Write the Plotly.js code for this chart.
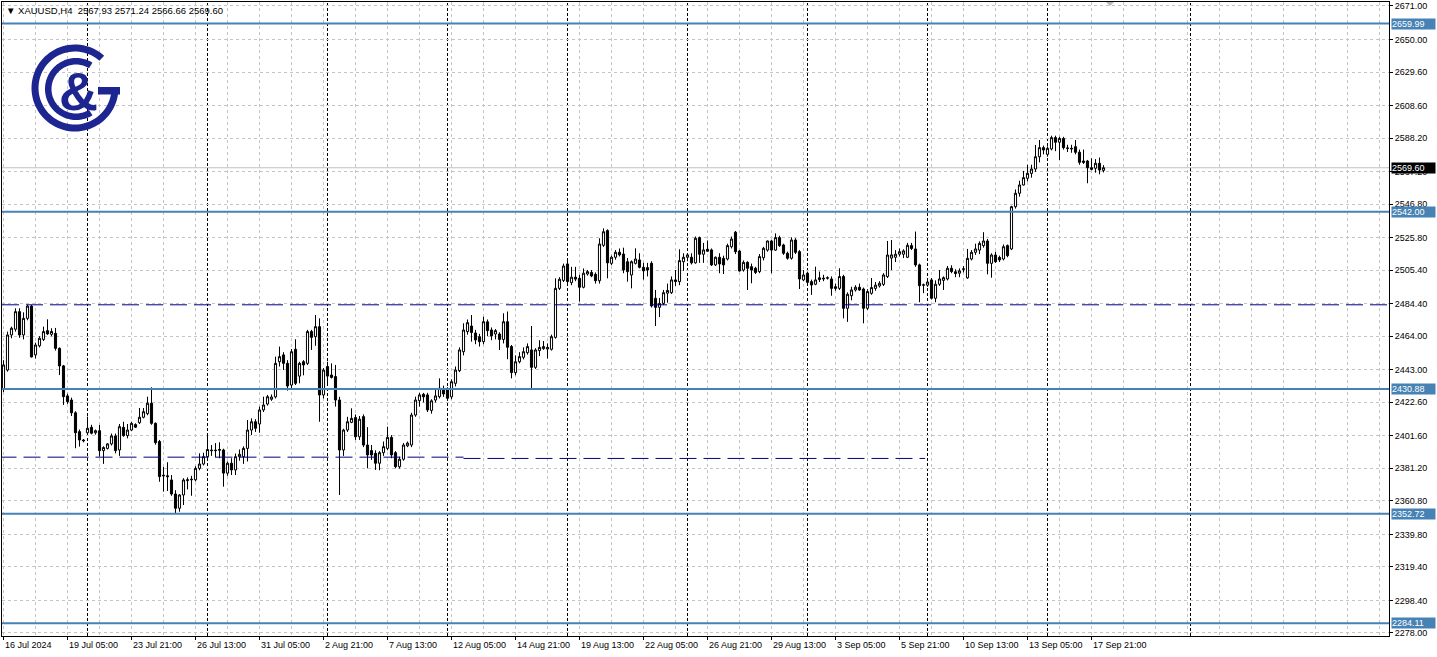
<!DOCTYPE html>
<html><head><meta charset="utf-8">
<script src="https://cdn.plot.ly/plotly-3.0.1.min.js"></script>
<style>html,body{margin:0;padding:0;background:#fff;}#chart{width:1437px;height:657px;}</style>
</head><body><div id="chart"></div>
<script>
const symbol = "XAUUSD,H4";
const open = [
2431.0,2442.8,2464.8,2468.4,2479.4,2464.8,2475.2,2482.9,2452.3,2458.0,
2462.0,2467.5,2465.2,2465.8,2456.4,2445.4,2426.6,2424.0,2416.0,2404.2,
2398.9,2403.5,2406.9,2403.5,2404.8,2392.3,2393.7,2396.5,2401.5,2392.7,
2406.9,2401.7,2405.2,2408.6,2409.8,2413.2,2415.5,2422.0,2409.4,2398.0,
2376.4,2376.5,2373.9,2365.1,2356.2,2364.5,2373.5,2374.0,2374.0,2381.2,
2383.9,2388.5,2392.6,2392.3,2392.5,2392.7,2378.2,2384.4,2380.2,2388.5,
2388.5,2393.7,2405.2,2410.4,2409.0,2417.8,2421.5,2424.5,2426.0,2448.0,
2452.3,2447.0,2433.4,2455.8,2439.0,2448.0,2447.0,2466.9,2463.7,2470.0,
2427.2,2445.0,2439.7,2438.7,2424.0,2392.7,2405.2,2410.0,2413.0,2401.0,
2413.6,2395.8,2392.3,2390.6,2384.4,2391.0,2393.7,2400.6,2391.0,2382.2,
2386.9,2395.3,2395.8,2414.6,2423.6,2427.6,2427.2,2417.5,2424.0,2426.1,
2430.3,2430.3,2426.0,2434.5,2442.4,2454.3,2466.9,2470.4,2466.0,2463.7,
2460.6,2473.0,2467.9,2465.4,2465.4,2462.0,2473.1,2457.5,2441.2,2448.0,
2450.8,2453.7,2455.4,2444.5,2455.0,2456.2,2456.0,2455.8,2463.3,2494.0,
2499.0,2509.3,2497.6,2501.0,2500.3,2494.7,2503.0,2504.0,2502.8,2498.8,
2521.0,2530.2,2509.7,2513.5,2516.6,2515.5,2510.7,2502.4,2509.7,2511.8,
2507.2,2507.0,2509.7,2487.8,2482.1,2484.6,2491.0,2491.3,2499.3,2498.2,
2510.7,2513.5,2513.5,2510.0,2525.8,2515.4,2518.5,2518.1,2508.7,2513.5,
2512.8,2512.4,2520.1,2529.2,2517.4,2505.5,2510.3,2507.6,2506.6,2504.5,
2513.2,2518.0,2523.7,2518.0,2525.8,2521.2,2516.0,2512.9,2524.3,2517.0,
2499.3,2503.5,2498.2,2496.6,2500.6,2500.4,2500.4,2499.9,2495.0,2494.0,
2501.4,2481.5,2489.4,2493.0,2494.7,2493.6,2481.5,2490.9,2494.0,2495.5,
2496.5,2501.4,2513.0,2513.5,2515.4,2515.4,2513.5,2520.8,2518.7,2508.7,
2496.0,2496.0,2499.3,2487.8,2496.6,2499.0,2499.9,2506.6,2504.4,2503.5,
2506.0,2500.6,2512.4,2516.6,2518.0,2520.8,2523.7,2509.7,2514.9,2513.4,
2512.4,2520.8,2518.7,2545.2,2553.6,2558.8,2563.0,2566.1,2568.8,2576.5,
2582.2,2578.0,2581.4,2588.5,2585.6,2588.0,2582.0,2581.8,2582.8,2579.3,
2573.8,2573.8,2569.6,2569.3,2572.4,2567.93];
const high = [
2449.0,2466.9,2470.0,2481.5,2481.5,2479.0,2483.7,2483.7,2460.0,2464.0,
2470.0,2474.6,2469.0,2469.2,2457.0,2446.0,2428.0,2425.5,2417.0,2405.5,
2399.6,2413.6,2408.5,2405.5,2408.4,2395.0,2397.0,2403.0,2403.0,2409.0,
2410.4,2409.0,2410.4,2409.4,2419.0,2419.0,2426.1,2432.0,2410.0,2399.0,
2382.0,2385.0,2377.0,2367.5,2365.0,2375.0,2375.5,2376.5,2382.5,2390.6,
2391.0,2403.2,2395.8,2397.0,2397.5,2393.5,2385.5,2387.5,2390.5,2393.0,
2395.0,2411.5,2412.5,2412.0,2419.9,2426.1,2427.2,2427.5,2451.2,2457.5,
2454.0,2449.0,2456.0,2462.1,2448.0,2449.0,2468.0,2468.0,2477.3,2475.2,
2444.0,2448.0,2447.0,2446.0,2426.0,2406.0,2413.5,2418.8,2415.0,2414.0,
2415.0,2407.0,2395.8,2392.5,2392.0,2398.0,2407.3,2402.0,2392.0,2388.5,
2397.0,2398.0,2416.0,2426.1,2428.5,2428.5,2428.5,2424.5,2430.3,2437.6,
2433.0,2432.0,2437.0,2445.0,2457.0,2472.1,2474.5,2477.3,2468.0,2465.5,
2476.2,2474.5,2469.5,2468.5,2466.5,2478.4,2479.5,2458.5,2452.0,2454.0,
2457.0,2459.5,2470.4,2456.5,2461.5,2461.0,2459.5,2465.0,2500.3,2501.0,
2509.5,2511.4,2507.5,2507.5,2502.5,2506.5,2505.5,2505.5,2504.0,2525.4,
2531.6,2531.0,2514.5,2518.0,2519.0,2519.5,2513.0,2511.5,2519.1,2516.0,
2510.0,2510.0,2511.0,2493.0,2488.0,2493.0,2497.0,2501.5,2505.5,2518.5,
2516.0,2516.0,2516.0,2526.5,2526.5,2522.5,2524.0,2519.0,2514.0,2516.0,
2514.5,2522.0,2526.5,2530.0,2518.0,2511.5,2511.0,2509.5,2507.5,2515.5,
2520.0,2524.0,2524.5,2528.5,2527.0,2522.0,2517.0,2526.0,2525.5,2518.0,
2505.5,2504.5,2499.5,2507.6,2504.5,2502.5,2501.5,2501.5,2497.0,2506.6,
2502.5,2491.5,2495.0,2496.0,2497.0,2494.5,2493.5,2500.5,2498.0,2498.5,
2503.5,2523.7,2524.3,2518.0,2519.0,2518.5,2522.5,2522.5,2529.6,2509.5,
2497.0,2500.0,2500.5,2499.0,2505.5,2501.5,2508.0,2508.5,2506.0,2506.5,
2508.0,2518.7,2518.0,2522.0,2523.5,2529.2,2525.0,2516.0,2517.0,2514.5,
2521.5,2521.5,2545.8,2556.0,2561.5,2567.6,2571.5,2571.5,2583.9,2587.0,
2583.5,2583.0,2589.7,2589.7,2589.0,2589.0,2584.0,2584.0,2587.0,2581.0,
2581.0,2574.5,2575.5,2575.0,2576.0,2571.24];
const low = [
2429.0,2441.8,2462.7,2466.9,2463.0,2462.0,2474.0,2450.7,2450.0,2457.0,
2461.0,2464.8,2464.0,2455.0,2439.7,2420.9,2421.6,2414.0,2393.8,2394.8,
2397.5,2403.0,2402.5,2402.3,2388.5,2384.0,2393.0,2395.5,2390.6,2389.0,
2401.0,2400.0,2404.5,2406.5,2409.0,2412.5,2414.5,2408.5,2396.0,2372.8,
2366.6,2367.0,2364.0,2352.6,2354.0,2358.2,2368.0,2364.0,2373.0,2380.0,
2383.0,2387.5,2389.0,2388.0,2387.5,2369.7,2376.5,2377.0,2377.0,2386.0,
2384.0,2385.5,2402.0,2404.0,2403.5,2416.5,2420.5,2423.5,2425.0,2445.0,
2442.8,2429.9,2430.3,2433.4,2434.5,2439.5,2446.0,2455.4,2458.0,2410.4,
2425.0,2433.0,2437.5,2419.9,2364.5,2389.0,2404.0,2409.5,2399.0,2399.0,
2394.5,2381.2,2386.5,2380.2,2380.0,2389.0,2392.5,2387.5,2381.2,2381.0,
2386.0,2394.5,2394.5,2413.5,2419.9,2422.5,2416.5,2415.5,2422.5,2425.0,
2426.0,2423.5,2424.5,2432.5,2441.5,2452.0,2465.0,2460.6,2459.0,2457.5,
2459.0,2464.0,2461.5,2462.0,2455.4,2459.5,2449.6,2437.6,2439.5,2447.0,
2449.5,2452.5,2431.4,2443.5,2451.5,2455.5,2450.0,2455.0,2462.5,2493.0,
2498.0,2495.5,2496.0,2498.5,2485.7,2494.0,2502.0,2501.0,2497.0,2497.0,
2520.0,2500.3,2508.5,2512.0,2514.0,2503.5,2498.2,2494.0,2509.0,2506.5,
2499.5,2501.5,2482.0,2470.4,2476.0,2483.5,2485.0,2490.5,2495.5,2496.0,
2505.0,2511.0,2509.0,2509.5,2510.0,2510.0,2517.0,2508.0,2508.0,2503.5,
2503.0,2511.5,2519.0,2515.5,2504.5,2504.5,2493.0,2497.2,2503.0,2503.5,
2511.5,2517.0,2503.5,2517.5,2520.0,2515.0,2512.0,2512.0,2515.5,2493.6,
2498.5,2497.2,2489.9,2496.0,2498.0,2498.5,2499.5,2489.4,2492.5,2493.0,
2475.2,2473.0,2486.5,2492.0,2492.5,2472.1,2480.5,2490.0,2492.5,2494.5,
2495.5,2500.5,2505.5,2510.5,2514.0,2513.0,2513.0,2518.0,2507.5,2485.3,
2491.0,2495.0,2487.0,2485.3,2495.5,2493.0,2499.0,2503.5,2501.0,2501.0,
2504.0,2500.0,2511.5,2515.0,2515.5,2519.5,2502.8,2500.7,2510.0,2510.5,
2511.5,2513.5,2518.0,2544.0,2551.5,2558.5,2561.0,2563.4,2567.0,2573.0,
2578.0,2576.5,2580.5,2580.0,2574.5,2581.0,2579.5,2579.0,2578.0,2571.5,
2572.0,2559.9,2568.0,2566.5,2565.5,2566.66];
const close = [
2446.0,2464.8,2469.0,2479.4,2464.8,2475.2,2482.9,2451.0,2458.5,2462.7,
2466.9,2465.5,2467.0,2456.4,2445.4,2426.1,2423.0,2416.0,2403.5,2399.0,
2398.5,2406.3,2403.2,2404.8,2392.3,2394.2,2396.5,2401.5,2392.3,2407.3,
2401.7,2405.2,2409.4,2407.0,2413.2,2416.7,2422.0,2409.4,2397.3,2376.0,
2376.8,2376.0,2365.1,2356.2,2364.5,2373.9,2374.0,2374.3,2381.2,2383.9,
2388.5,2393.0,2392.3,2392.5,2393.0,2378.2,2384.4,2380.2,2388.5,2390.0,
2393.7,2405.2,2410.4,2406.3,2417.8,2420.9,2426.1,2425.9,2447.0,2451.2,
2447.0,2432.8,2454.3,2434.5,2447.0,2446.0,2466.9,2463.3,2470.0,2427.2,
2442.8,2439.0,2438.2,2424.0,2392.7,2405.2,2410.4,2412.5,2401.0,2412.0,
2395.8,2389.6,2389.6,2384.4,2391.0,2394.8,2400.6,2389.6,2382.2,2386.9,
2395.8,2397.0,2414.6,2424.0,2427.2,2426.0,2417.8,2423.5,2426.6,2431.4,
2427.8,2425.1,2435.5,2442.8,2455.4,2467.9,2472.5,2466.3,2461.7,2460.6,
2473.1,2467.5,2464.2,2467.5,2462.0,2473.1,2457.1,2441.2,2448.0,2451.2,
2454.3,2457.5,2444.5,2455.4,2457.0,2457.5,2457.0,2463.7,2494.0,2499.7,
2508.0,2498.3,2501.0,2499.8,2494.7,2503.5,2504.5,2501.8,2498.8,2521.8,
2529.5,2510.0,2513.5,2516.6,2515.0,2505.5,2504.5,2510.7,2512.4,2507.2,
2505.0,2505.5,2483.0,2482.1,2484.6,2491.3,2492.7,2499.3,2498.3,2511.4,
2513.5,2515.0,2510.0,2525.4,2515.4,2518.1,2517.3,2508.7,2513.5,2509.3,
2508.7,2520.8,2524.9,2517.0,2504.9,2510.3,2506.6,2505.5,2504.0,2513.9,
2519.1,2523.7,2518.0,2525.8,2520.8,2516.0,2512.9,2524.3,2516.6,2499.9,
2502.4,2497.8,2496.1,2499.3,2499.6,2500.0,2500.6,2494.0,2494.0,2501.4,
2481.5,2490.3,2493.0,2494.7,2493.0,2481.5,2492.0,2494.5,2496.0,2497.2,
2502.4,2514.9,2515.0,2515.4,2517.0,2517.5,2521.0,2519.0,2508.7,2495.7,
2496.2,2498.0,2487.8,2496.6,2499.9,2500.7,2506.6,2504.5,2503.3,2505.0,
2506.2,2512.8,2516.6,2518.7,2522.2,2523.7,2509.7,2514.9,2510.7,2511.8,
2520.1,2514.5,2545.2,2553.6,2558.8,2563.4,2566.1,2568.8,2576.5,2582.2,
2580.7,2581.8,2588.5,2585.6,2588.0,2582.2,2581.8,2581.5,2579.3,2573.0,
2573.0,2569.6,2568.6,2572.4,2568.2,2569.60];

const tickBars = [0,16,32,48,64,80,96,112,128,144,160,176,192,208,224,240,256,272];
const tickLabels = ["16 Jul 2024","19 Jul 05:00","23 Jul 21:00","26 Jul 13:00","31 Jul 05:00",
  "2 Aug 21:00","7 Aug 13:00","12 Aug 05:00","14 Aug 21:00","19 Aug 13:00","22 Aug 05:00",
  "26 Aug 21:00","29 Aug 13:00","3 Sep 05:00","5 Sep 21:00","10 Sep 13:00","13 Sep 05:00","17 Sep 21:00"];
const priceTicks = [2671.00,2650.00,2629.60,2608.60,2588.20,2567.20,2546.80,2525.80,2505.40,2484.40,
  2464.00,2443.00,2422.60,2401.60,2381.20,2360.80,2339.80,2319.40,2298.40,2278.00];
const weekSeparators = [21,51,81,111,141,171,201,231,261,296.75];
const levels = [2659.99,2542.00,2430.88,2352.72,2284.11];
const highLine = 2483.7;
const lowLineStart = [-1,115];
const lowLineEnd = [115,230.4];
const lowLinePrice = [2388.2,2387.4];

const idx = open.map((_, i) => i);
const last = open.length - 1;

// page geometry (pixels) for decorations
const PL = 2, PR = 1389, PT = 2, PB = 636;
function pp(x, y) { return [(x - PL) / (PR - PL), 1 - (y - PT) / (PB - PT)]; }
function polyPath(pts) {
  return 'M' + pts.map(p => { const q = pp(p[0], p[1]); return q[0].toFixed(5) + ',' + q[1].toFixed(5); }).join('L') + 'Z';
}
function ring(cx, cy, r1, r2, a0, a1) {
  const n = 80, pts = [];
  for (let k = 0; k <= n; k++) { const a = (a0 + (a1 - a0) * k / n) * Math.PI / 180; pts.push([cx + r2 * Math.cos(a), cy - r2 * Math.sin(a)]); }
  for (let k = n; k >= 0; k--) { const a = (a0 + (a1 - a0) * k / n) * Math.PI / 180; pts.push([cx + r1 * Math.cos(a), cy - r1 * Math.sin(a)]); }
  return polyPath(pts);
}
const NAVY = '#1c2590';
const STEEL = '#4682b4';
const GRID = '#c4c4c4';

const shapes = [];
weekSeparators.forEach(s => shapes.push({type:'line', xref:'x', yref:'paper', x0:s, x1:s, y0:0, y1:1,
  line:{color:'#000', width:1, dash:'3px,2px'}, layer:'below'}));
shapes.push({type:'line', xref:'paper', yref:'y', x0:0, x1:1, y0:close[last], y1:close[last],
  line:{color:'#c0c0c0', width:1}, layer:'below'});
shapes.push({type:'line', xref:'paper', yref:'y', x0:0, x1:1, y0:highLine, y1:highLine,
  line:{color:'#000080', width:1, dash:'17px,7px'}, layer:'above'});
lowLinePrice.forEach((p, k) => shapes.push({type:'line', xref:'x', yref:'y', x0:lowLineStart[k], x1:lowLineEnd[k], y0:p, y1:p,
  line:{color:'#000080', width:1, dash:'17px,7px'}, layer:'above'}));
levels.forEach(l => shapes.push({type:'line', xref:'paper', yref:'y', x0:0, x1:1, y0:l, y1:l,
  line:{color:STEEL, width:2}, layer:'above'}));
// logo
shapes.push({type:'path', xref:'paper', yref:'paper', path:ring(75, 88, 36.5, 43.5, 48, 360), fillcolor:NAVY, line:{width:0}, layer:'above'});
shapes.push({type:'path', xref:'paper', yref:'paper', path:polyPath([[98,87],[120,87],[120,94.5],[98,94.5]]), fillcolor:NAVY, line:{width:0}, layer:'above'});
shapes.push({type:'path', xref:'paper', yref:'paper', path:ring(76, 89, 24.5, 31, 58, 302), fillcolor:NAVY, line:{width:0}, layer:'above'});
// chart shift marker
shapes.push({type:'path', xref:'paper', yref:'paper', path:polyPath([[1106,2],[1114,2],[1110,6]]), fillcolor:'#b8b8b8', line:{width:0}, layer:'above'});

const FONT = 'Liberation Sans, Arial, sans-serif';
const annotations = [];
tickBars.forEach((b, k) => annotations.push({xref:'x', yref:'paper', x:b, y:0, xanchor:'left', yanchor:'top',
  xshift:-1, yshift:-2, text:tickLabels[k], showarrow:false, font:{family:FONT, size:9, color:'#000'}}));
levels.forEach(l => annotations.push({xref:'paper', yref:'y', x:1, y:l, xanchor:'left', yanchor:'middle', xshift:2,
  text:l.toFixed(2), showarrow:false, bgcolor:STEEL, width:43, height:10, align:'left', borderpad:0,
  font:{family:FONT, size:9, color:'#fff'}}));
annotations.push({xref:'paper', yref:'y', x:1, y:close[last], xanchor:'left', yanchor:'middle', xshift:2,
  text:close[last].toFixed(2), showarrow:false, bgcolor:'#000', width:43, height:10, align:'left', borderpad:0,
  font:{family:FONT, size:9, color:'#fff'}});
annotations.push({xref:'paper', yref:'paper', x:0, y:1, xanchor:'left', yanchor:'top', xshift:2, yshift:-1,
  text:'▼ ' + symbol + '  ' + [open[last], high[last], low[last], close[last]].map(v => v.toFixed(2)).join(' '),
  showarrow:false, font:{family:FONT, size:9.5, color:'#000'}});
annotations.push({xref:'paper', yref:'paper', x:pp(78,0)[0], y:pp(0,91)[1], xanchor:'center', yanchor:'middle',
  text:'<b>&</b>', showarrow:false, font:{family:'Liberation Sans, Arial, sans-serif', size:54, color:NAVY}});

const trace = {
  type:'candlestick', x:idx, open:open, high:high, low:low, close:close,
  increasing:{line:{color:'#000', width:1}, fillcolor:'#fff'},
  decreasing:{line:{color:'#000', width:1}, fillcolor:'#000'},
  whiskerwidth:0, hoverinfo:'none', showlegend:false
};

const layout = {
  width:1437, height:657, margin:{l:2, r:48, t:2, b:21},
  paper_bgcolor:'#fff', plot_bgcolor:'#fff', showlegend:false, boxgap:0.25,
  xaxis:{range:[-0.375, 346.375], tickvals:tickBars, showticklabels:false, ticks:'outside', ticklen:3, tickcolor:'#000',
    showgrid:true, gridcolor:GRID, griddash:'3px,3px', gridwidth:1,
    minor:{dtick:8, tick0:0, showgrid:true, gridcolor:GRID, griddash:'3px,3px', ticks:''},
    showline:true, linecolor:'#000', linewidth:1, mirror:true, zeroline:false, fixedrange:true,
    rangeslider:{visible:false}},
  yaxis:{side:'right', range:[2276.1, 2673.5], tickvals:priceTicks, ticktext:priceTicks.map(v => v.toFixed(2)),
    ticks:'outside', ticklen:3, tickcolor:'#000', tickfont:{family:FONT, size:9, color:'#000'},
    showgrid:true, gridcolor:GRID, griddash:'3px,3px', gridwidth:1,
    showline:true, linecolor:'#000', linewidth:1, mirror:true, zeroline:false, fixedrange:true},
  shapes:shapes, annotations:annotations
};
Plotly.newPlot('chart', [trace], layout, {staticPlot:true, displayModeBar:false});
</script></body></html>
